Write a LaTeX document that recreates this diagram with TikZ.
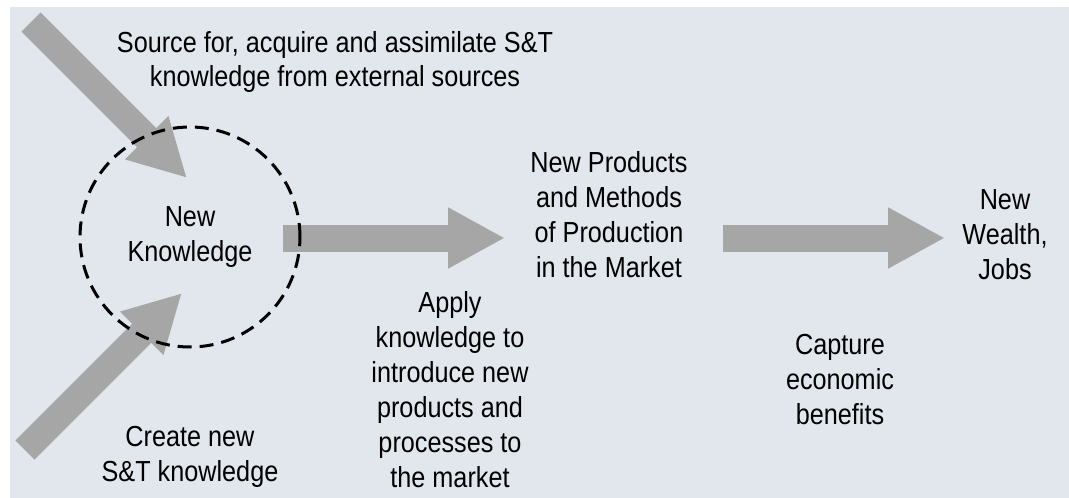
\documentclass[tikz,border=0pt]{standalone}
\usepackage{fontspec}
\setmainfont{Liberation Sans}[FakeStretch=0.87]
\usetikzlibrary{arrows.meta,positioning}

\definecolor{bgblue}{HTML}{E1E7ED}
\definecolor{arrowgray}{HTML}{A6A6A6}

\tikzset{
  lbl/.style={align=center, font=\fontsize{29}{35}\selectfont, inner sep=0pt},
  bigarrow/.style={draw=arrowgray, line width=27pt, -{Triangle[length=57pt,width=57pt]}},
  ring/.style={draw, circle, line width=3pt, dash pattern=on 14pt off 8pt, minimum size=220pt},
}

\begin{document}
\begin{tikzpicture}[x=1pt,y=-1pt]
  \useasboundingbox (0,0) rectangle (1069,498);
  % fond
  \fill[bgblue] (10,7) rectangle (1069,498);

  % points des flèches
  \coordinate (extsrc) at (31,22);
  \coordinate (extend) at (187,178);
  \coordinate (crtsrc) at (25,450);
  \coordinate (crtend) at (182,293);
  \coordinate (appsrc) at (283,238);
  \coordinate (append) at (505,238);
  \coordinate (capsrc) at (723,238);
  \coordinate (capend) at (945,238);

  % Flèches
  \draw[bigarrow] (extsrc) -- (extend);
  \draw[bigarrow] (crtsrc) -- (crtend);
  \draw[bigarrow] (appsrc) -- (append);
  \draw[bigarrow] (capsrc) -- (capend);

  % Cercle et textes
  \node[ring, lbl] (newk) at (190,237) {New\\Knowledge};
  \node[lbl] (source) at (335,62) {Source for, acquire and assimilate S\&T\\knowledge from external sources};
  \node[lbl] (create) at (190,457) {Create new\\S\&T knowledge};
  \node[lbl] (apply) at (450,390) {Apply\\knowledge to\\introduce new\\products and\\processes to\\the market};
  \node[lbl] (products) at (609,215) {New Products\\and Methods\\of Production\\in the Market};
  \node[lbl] (capture) at (840,380) {Capture\\economic\\benefits};
  \node[lbl] (wealth) at (1005,235) {New\\Wealth,\\Jobs};
\end{tikzpicture}
\end{document}
